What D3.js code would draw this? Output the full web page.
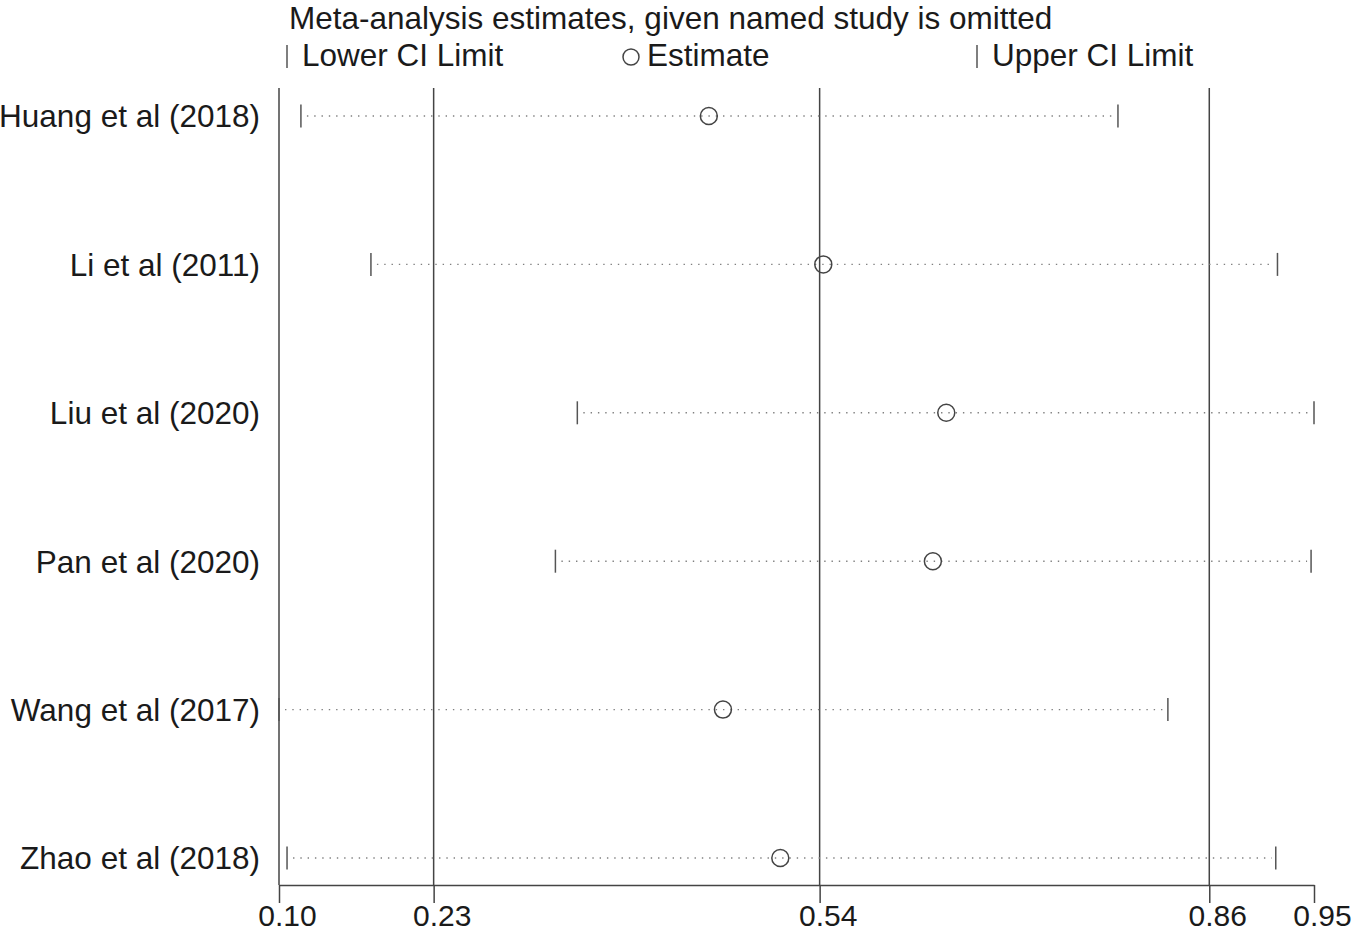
<!DOCTYPE html>
<html>
<head>
<meta charset="utf-8">
<script src="https://cdn.jsdelivr.net/npm/d3@7"></script>
<style>
  body { margin: 0; background: #fff; }
  text { font-family: "Liberation Sans", Arial, sans-serif; fill: #1a1a1a; }
</style>
</head>
<body>
<svg id="chart" width="1355" height="934"></svg>
<script>
// studies, one row each, top to bottom
const studies = ["Huang et al (2018)", "Li et al (2011)", "Liu et al (2020)",
                 "Pan et al (2020)", "Wang et al (2017)", "Zhao et al (2018)"]
const lower    = [0.118, 0.1755, 0.345, 0.327, 0.100, 0.1066]
const estimate = [0.453, 0.547, 0.648, 0.637, 0.4646, 0.5117]
const upper    = [0.789, 0.920, 0.950, 0.9476, 0.830, 0.9186]

// axis: min lower, overall lower CI, overall estimate, overall upper CI, max upper
const tickValues = [0.100, 0.227, 0.544, 0.864, 0.950]
const refLines = [0.227, 0.544, 0.864]

const svg = d3.select("#chart")
const plotTop = 88, axisY = 885
const fs = "31.5px"

const x = d3.scaleLinear().domain([0.100, 0.950]).range([279, 1314])
const y = d3.scalePoint().domain(studies).range([116, 858])

const rows = studies.map((s, i) => ({name: s, lo: lower[i], est: estimate[i], hi: upper[i]}))

// title + legend
svg.append("text")
  .attr("x", 289).attr("y", 28.5)
  .style("font-size", fs)
  .text("Meta-analysis estimates, given named study is omitted")

let leg = svg.append("g")
leg.append("line").attr("x1", 287).attr("x2", 287).attr("y1", 45).attr("y2", 68)
  .attr("stroke", "#555").attr("stroke-width", 1.5)
leg.append("text").attr("x", 302).attr("y", 66).style("font-size", fs).text("Lower CI Limit")
leg.append("circle").attr("cx", 631).attr("cy", 57).attr("r", 8)
  .attr("fill", "none").attr("stroke", "#444").attr("stroke-width", 1.5)
leg.append("text").attr("x", 647).attr("y", 66).style("font-size", fs).text("Estimate")
leg.append("line").attr("x1", 977).attr("x2", 977).attr("y1", 45).attr("y2", 68)
  .attr("stroke", "#555").attr("stroke-width", 1.5)
leg.append("text").attr("x", 992).attr("y", 66).style("font-size", fs).text("Upper CI Limit")

// reference lines (overall estimate and CI) and left border
svg.selectAll("line.ref").data(refLines)
  .join("line")
    .classed("ref", true)
    .attr("x1", d => x(d)).attr("x2", d => x(d))
    .attr("y1", plotTop).attr("y2", axisY)
    .attr("stroke", "#444").attr("stroke-width", 1.5)

svg.append("line")
  .attr("x1", x(0.100)).attr("x2", x(0.100))
  .attr("y1", plotTop).attr("y2", axisY)
  .attr("stroke", "#444").attr("stroke-width", 1.5)

// x axis
let axis = svg.append("g")
  .attr("transform", "translate(0," + axisY + ")")
  .call(d3.axisBottom(x).tickValues(tickValues).tickFormat(d3.format(".2f"))
    .tickSizeInner(18).tickSizeOuter(0).tickPadding(2))
axis.select(".domain").attr("stroke", "#444").attr("stroke-width", 1.5)
axis.selectAll(".tick line").attr("stroke", "#444").attr("stroke-width", 1.5)
axis.selectAll(".tick text")
  .attr("x", 8)
  .style("font-size", "30px")
  .style("font-family", "'Liberation Sans', Arial, sans-serif")
  .attr("fill", "#1a1a1a")

// study rows
let g = svg.selectAll("g.row").data(rows)
  .join("g")
    .classed("row", true)
    .attr("transform", d => "translate(0," + y(d.name) + ")")

g.append("text")
  .attr("x", 260).attr("dy", "0.36em")
  .attr("text-anchor", "end")
  .style("font-size", fs)
  .text(d => d.name)

g.append("line")
  .attr("x1", d => x(d.lo) + 6).attr("x2", d => x(d.hi) - 4)
  .attr("stroke", "#808080").attr("stroke-width", 1.4)
  .attr("stroke-dasharray", "1.4,5.9")

g.append("line")
  .attr("x1", d => x(d.lo)).attr("x2", d => x(d.lo))
  .attr("y1", -11.5).attr("y2", 11.5)
  .attr("stroke", "#555").attr("stroke-width", 1.5)

g.append("line")
  .attr("x1", d => x(d.hi)).attr("x2", d => x(d.hi))
  .attr("y1", -11.5).attr("y2", 11.5)
  .attr("stroke", "#555").attr("stroke-width", 1.5)

g.append("circle")
  .attr("cx", d => x(d.est)).attr("r", 8.5)
  .attr("fill", "none").attr("stroke", "#444").attr("stroke-width", 1.5)
</script>
</body>
</html>
